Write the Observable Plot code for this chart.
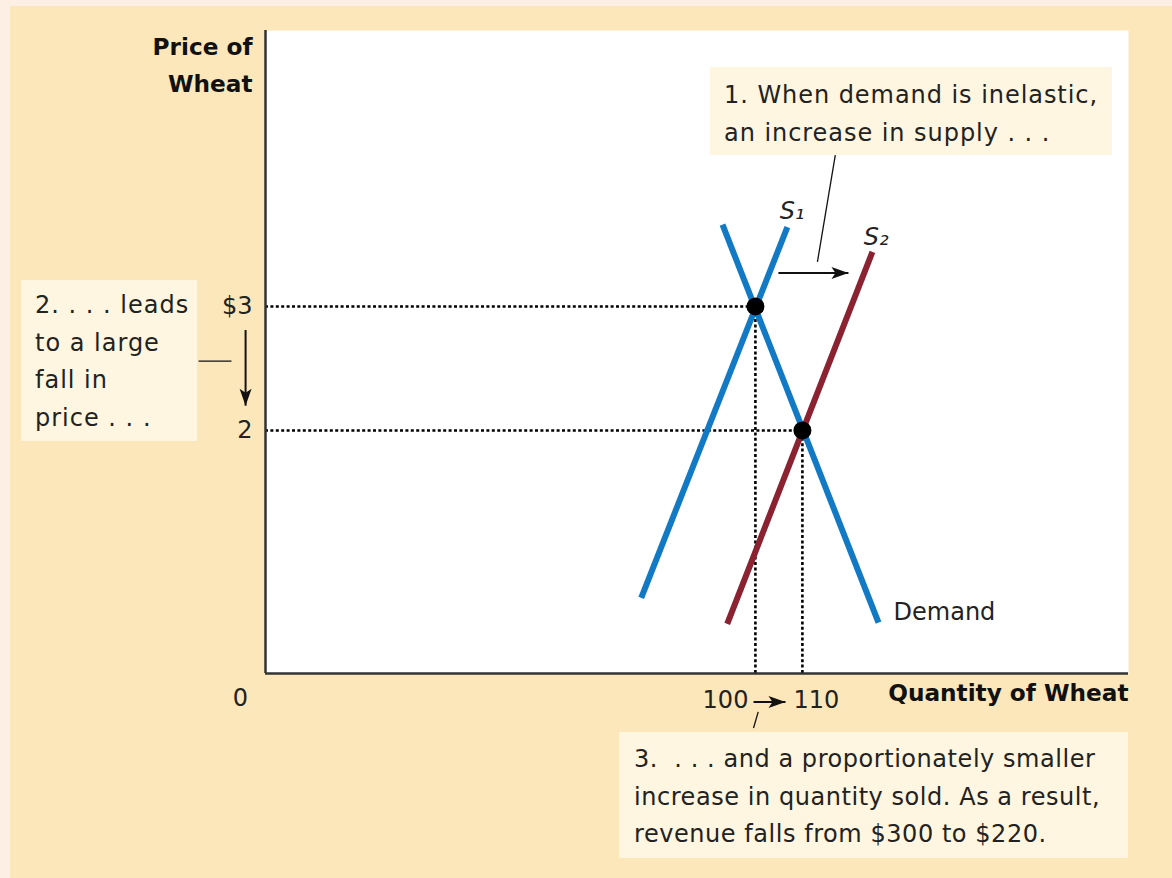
<!DOCTYPE html>
<html><head><meta charset="utf-8">
<script src="https://cdn.jsdelivr.net/npm/d3@7"></script>
<script src="https://cdn.jsdelivr.net/npm/@observablehq/plot@0.6"></script>
<style>
html,body{margin:0;padding:0;background:#fdefe3;}
#wrap{position:relative;width:1172px;height:878px;overflow:hidden;}
#bg{position:absolute;left:10px;top:6px;right:0;bottom:0;background:#fbe7ba;}
#chart{position:absolute;left:0;top:0;}
.box{position:absolute;background:#fef6e0;font-family:"DejaVu Sans",sans-serif;font-size:24px;line-height:37.5px;color:#222;white-space:pre;box-sizing:border-box;letter-spacing:0.75px;}
</style></head>
<body>
<div id="wrap">
<div id="bg"></div>
<div id="chart"></div>
<div class="box" style="left:710px;top:67px;width:402px;height:88px;padding:10px 0 0 14px;letter-spacing:0.95px;">1. When demand is inelastic,
an increase in supply . . .</div>
<div class="box" style="left:21px;top:280px;width:176px;height:161px;padding:7px 0 0 14px;letter-spacing:1px;">2. . . . leads
to a large
fall in
price . . .</div>
<div class="box" style="left:619px;top:732px;width:509px;height:126px;padding:9px 0 0 15px;letter-spacing:0.55px;">3.  . . . and a proportionately smaller
increase in quantity sold. As a result,
revenue falls from $300 to $220.</div>
</div>
<script>
// ---- data ----
const curveNames = ["Demand", "S1", "S2"];
const curveColors = ["#127ac4", "#127ac4", "#8b2231"];
const demandQ = [93, 126.2];
const demandP = [3.66, 0.45];
const s1Q = [75.7, 106.8];
const s1P = [0.65, 3.64];
const s2Q = [94, 124.9];
const s2P = [0.44, 3.44];

const eqQuantities = [100, 110];
const eqPrices = [3, 2];
const priceTickLabels = ["$3", "2"];
const quantityTickLabels = ["100", "110"];
const originLabel = "0";

const curveLabelText = ["S\u2081", "S\u2082"];
const curveLabelQ = [107.8, 125.7];
const curveLabelP = [3.77, 3.56];
const demandLabelQ = [129.4];
const demandLabelP = [0.53];

// annotation arrows and leaders (data units); heads point to (x2, y2)
const arrows = [
  {x1: 104.9, x2: 119.8, y1: 3.27, y2: 3.27, dir: 90},
  {x1: -8.5, x2: -8.5, y1: 2.81, y2: 2.20, dir: 180},
  {x1: 99.6, x2: 106.4, y1: -0.19, y2: -0.19, dir: 90}
];
const leaders = [
  {x1: 113.2, y1: 3.36, x2: 117.0, y2: 4.22},
  {x1: -18.5, y1: 2.56, x2: -11.5, y2: 2.56},
  {x1: 100.6, y1: -0.27, x2: 99.6, y2: -0.40}
];

// ---- build tables ----
const curves = [
  ...demandQ.map((q, i) => ({curve: "Demand", q, p: demandP[i]})),
  ...s1Q.map((q, i) => ({curve: "S1", q, p: s1P[i]})),
  ...s2Q.map((q, i) => ({curve: "S2", q, p: s2P[i]}))
];
const eq = eqQuantities.map((q, i) => ({q, p: eqPrices[i]}));
const xDomain = [-4.26, 179.4];
const yDomain = [0.04, 5.226];

// filled arrowhead symbol, tip at origin, pointing up
const arrowHead = {
  draw(context) {
    context.moveTo(0, 0);
    context.lineTo(6, 17);
    context.lineTo(0, 13);
    context.lineTo(-6, 17);
    context.closePath();
  }
};

const dotted = {stroke: "black", strokeWidth: 2.6, strokeDasharray: "3 2.4"};

const chart = Plot.plot({
  width: 1172, height: 878,
  marginLeft: 265, marginRight: 44, marginTop: 30, marginBottom: 205,
  x: {domain: xDomain, axis: null},
  y: {domain: yDomain, axis: null},
  color: {domain: curveNames, range: curveColors},
  style: {fontFamily: "DejaVu Sans, sans-serif", fontSize: "24px", background: "transparent", color: "#222", overflow: "visible"},
  marks: [
    Plot.frame({fill: "white", stroke: "none"}),
    Plot.ruleY(eq, {y: "p", x1: xDomain[0], x2: "q", ...dotted}),
    Plot.ruleX(eq, {x: "q", y1: yDomain[0], y2: "p", ...dotted}),
    Plot.line(curves, {x: "q", y: "p", z: "curve", stroke: "curve", strokeWidth: 6, strokeLinecap: "butt"}),
    Plot.dot(eq, {x: "q", y: "p", r: 9, fill: "black"}),
    Plot.ruleX([xDomain[0]], {stroke: "#333", strokeWidth: 2.5}),
    Plot.ruleY([yDomain[0]], {stroke: "#333", strokeWidth: 2.5}),
    // tick labels
    Plot.text(eqPrices, {x: xDomain[0], y: d => d, text: (d, i) => priceTickLabels[i], dx: -13, textAnchor: "end", fill: "#222"}),
    Plot.text([eqQuantities[0]], {x: d => d, y: yDomain[0], text: [quantityTickLabels[0]], dx: -7, dy: 27, textAnchor: "end", fill: "#222"}),
    Plot.text([eqQuantities[1]], {x: d => d, y: yDomain[0], text: [quantityTickLabels[1]], dx: -9, dy: 27, textAnchor: "start", fill: "#222"}),
    Plot.text([originLabel], {x: xDomain[0], y: yDomain[0], text: d => d, dx: -25, dy: 25, fill: "#222"}),
    // axis titles
    Plot.text(["Quantity of Wheat"], {frameAnchor: "bottom-right", text: d => d, dy: 27, textAnchor: "end", fontWeight: "bold", fontSize: 23.2, fill: "#111"}),
    Plot.text(["Price of\nWheat"], {frameAnchor: "top-left", text: d => d, dx: -13, dy: 31, textAnchor: "end", lineAnchor: "middle", lineHeight: 1.62, fontWeight: "bold", fontSize: 23.2, fill: "#111"}),
    // curve labels
    Plot.text(curveLabelText, {x: (d, i) => curveLabelQ[i], y: (d, i) => curveLabelP[i], text: d => d, fontStyle: "italic", fontSize: 24, fill: "#222"}),
    Plot.text(["Demand"], {x: demandLabelQ, y: demandLabelP, text: d => d, textAnchor: "start", fill: "#222"}),
    // annotations
    Plot.link(leaders, {x1: "x1", y1: "y1", x2: "x2", y2: "y2", stroke: "#111", strokeWidth: 1.3}),
    Plot.link(arrows, {x1: "x1", y1: "y1", x2: "x2", y2: "y2", stroke: "#111", strokeWidth: 2}),
    Plot.dot(arrows, {x: "x2", y: "y2", symbol: arrowHead, rotate: "dir", fill: "#111", stroke: "none"})
  ]
});
document.getElementById("chart").appendChild(chart);
</script>
</body></html>
